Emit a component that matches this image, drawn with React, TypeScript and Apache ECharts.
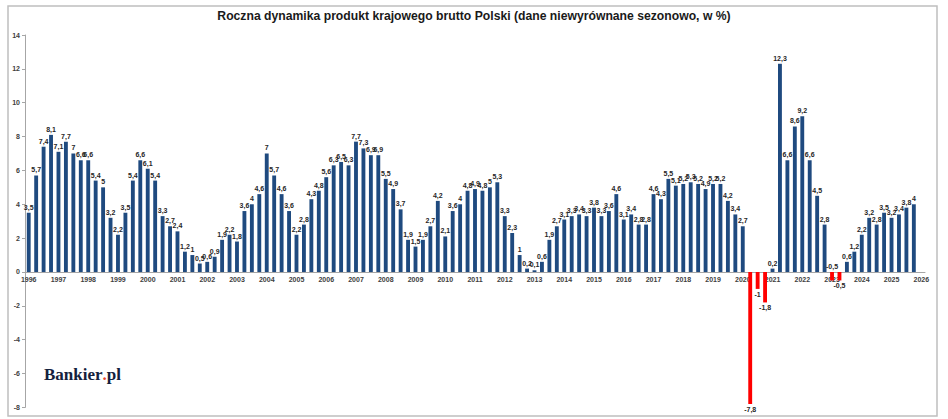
import React, { useEffect, useRef } from "react";
import * as echarts from "echarts";

const TITLE = "Roczna dynamika produkt krajowego brutto Polski (dane niewyrównane sezonowo, w %)";
const firstYear = 1996;
const lastYear = 2026;
const quarters = ["Q1", "Q2", "Q3", "Q4"];

// quarterly y/y GDP growth, 1996 Q1 … 2025 Q4
const gdpGrowth: (number | null)[] = [
  3.5, 5.7, 7.4, 8.1, // 1996
  7.1, 7.7, 7.0, 6.6, // 1997
  6.6, 5.4, 5.0, 3.2, // 1998
  2.2, 3.5, 5.4, 6.6, // 1999
  6.1, 5.4, 3.3, 2.7, // 2000
  2.4, 1.2, 1.0, 0.5, // 2001
  0.6, 0.9, 1.9, 2.2, // 2002
  1.8, 3.6, 4.0, 4.6, // 2003
  7.0, 5.7, 4.6, 3.6, // 2004
  2.2, 2.8, 4.3, 4.8, // 2005
  5.6, 6.3, 6.5, 6.3, // 2006
  7.7, 7.3, 6.9, 6.9, // 2007
  5.5, 4.9, 3.7, 1.9, // 2008
  1.5, 1.9, 2.7, 4.2, // 2009
  2.1, 3.6, 4.0, 4.8, // 2010
  4.9, 4.8, 5.0, 5.3, // 2011
  3.3, 2.3, 1.0, 0.2, // 2012
  0.1, 0.6, 1.9, 2.7, // 2013
  3.1, 3.3, 3.4, 3.3, // 2014
  3.8, 3.3, 3.6, 4.6, // 2015
  3.1, 3.4, 2.8, 2.8, // 2016
  4.6, 4.3, 5.5, 5.1, // 2017
  5.2, 5.3, 5.2, 4.9, // 2018
  5.2, 5.2, 4.2, 3.4, // 2019
  2.7, -7.8, -1.0, -1.8, // 2020
  0.2, 12.3, 6.6, 8.6, // 2021
  9.2, 6.6, 4.5, 2.8, // 2022
  -0.5, -0.5, 0.6, 1.2, // 2023
  2.2, 3.2, 2.8, 3.5, // 2024
  3.2, 3.4, 3.8, 4.0, // 2025
  null, // 2026 Q1
];

const yTicks = { min: -8, max: 14, interval: 2 };

const categories: string[] = [];
for (let y = firstYear; y <= lastYear; y++) {
  for (const q of quarters) {
    if (categories.length < gdpGrowth.length) categories.push(`${y} ${q}`);
  }
}

const POS = "#1F4A7F";
const NEG = "#FF0000";
const LABEL_FONT = "Liberation Sans";

export default function App() {
  const ref = useRef<HTMLDivElement>(null);
  useEffect(() => {
    document.body.style.margin = "0";
    const chart = echarts.init(ref.current!, undefined, { renderer: "svg" });
    const data = gdpGrowth.map((v, i) => {
      if (v === null) return { value: null };
      const neg = v < 0;
      const item: any = {
        value: v,
        itemStyle: { color: neg ? NEG : POS },
        label: { position: neg ? "bottom" : "top" },
      };
      if (i === 108) item.label = { position: "top" };
      return item;
    });
    chart.setOption({
      animation: false,
      backgroundColor: "#ffffff",
      title: {
        text: TITLE,
        left: "center",
        top: 5,
        textStyle: { fontFamily: "Liberation Sans", fontSize: 12.2, fontWeight: "bold", color: "#1a1a1a" },
      },
      grid: { left: 25, right: 23, top: 35, bottom: 11.6, containLabel: false },
      xAxis: {
        type: "category",
        data: categories,
        axisLine: { onZero: false, lineStyle: { color: "#a6a6a6", width: 1 } },
        axisTick: { show: false },
        axisLabel: {
          interval: 3,
          margin: 4,
          fontSize: 7,
          fontFamily: LABEL_FONT,
          fontWeight: "bold",
          color: "#404040",
          formatter: (v: string) => v.split(" ")[0],
        },
      },
      yAxis: {
        type: "value",
        min: yTicks.min,
        max: yTicks.max,
        interval: yTicks.interval,
        axisLine: { show: true, onZero: false, lineStyle: { color: "#a6a6a6" } },
        axisTick: { show: true, length: 3, lineStyle: { color: "#a6a6a6" } },
        splitLine: { show: false },
        axisLabel: {
          fontSize: 7,
          margin: 5,
          fontFamily: LABEL_FONT,
          fontWeight: "bold",
          color: "#404040",
        },
      },
      series: [
        {
          type: "bar",
          data,
          barWidth: "52%",
          label: {
            show: true,
            distance: 2,
            fontSize: 7,
            fontFamily: LABEL_FONT,
            fontWeight: "bold",
            color: "#262626",
            formatter: (p: any) => (p.value === null ? "" : String(p.value).replace(".", ",")),
          },
        },
      ],
      graphic: [
        {
          type: "rect",
          shape: { x: 8, y: 6, width: 929, height: 410 },
          style: { fill: "none", stroke: "#bfbfbf", lineWidth: 1.5 },
          silent: true,
        },
        {
          type: "text",
          left: 44,
          top: 366,
          style: {
            text: "{a|Bankier}{b|.}{a|pl}",
            rich: {
              a: { fontFamily: "Liberation Serif", fontWeight: "bold", fontSize: 17, fill: "#14213d" },
              b: { fontFamily: "Liberation Serif", fontWeight: "bold", fontSize: 17, fill: "#e8452c" },
            },
          },
        },
      ],
    });
    // place the category axis (line + labels) on the zero line of the value axis
    const zeroPx = chart.convertToPixel({ yAxisIndex: 0 }, 0) as number;
    const minPx = chart.convertToPixel({ yAxisIndex: 0 }, yTicks.min) as number;
    chart.setOption({ xAxis: { offset: zeroPx - minPx } });
    return () => chart.dispose();
  }, []);
  return <div ref={ref} style={{ width: 948, height: 419 }} />;
}
